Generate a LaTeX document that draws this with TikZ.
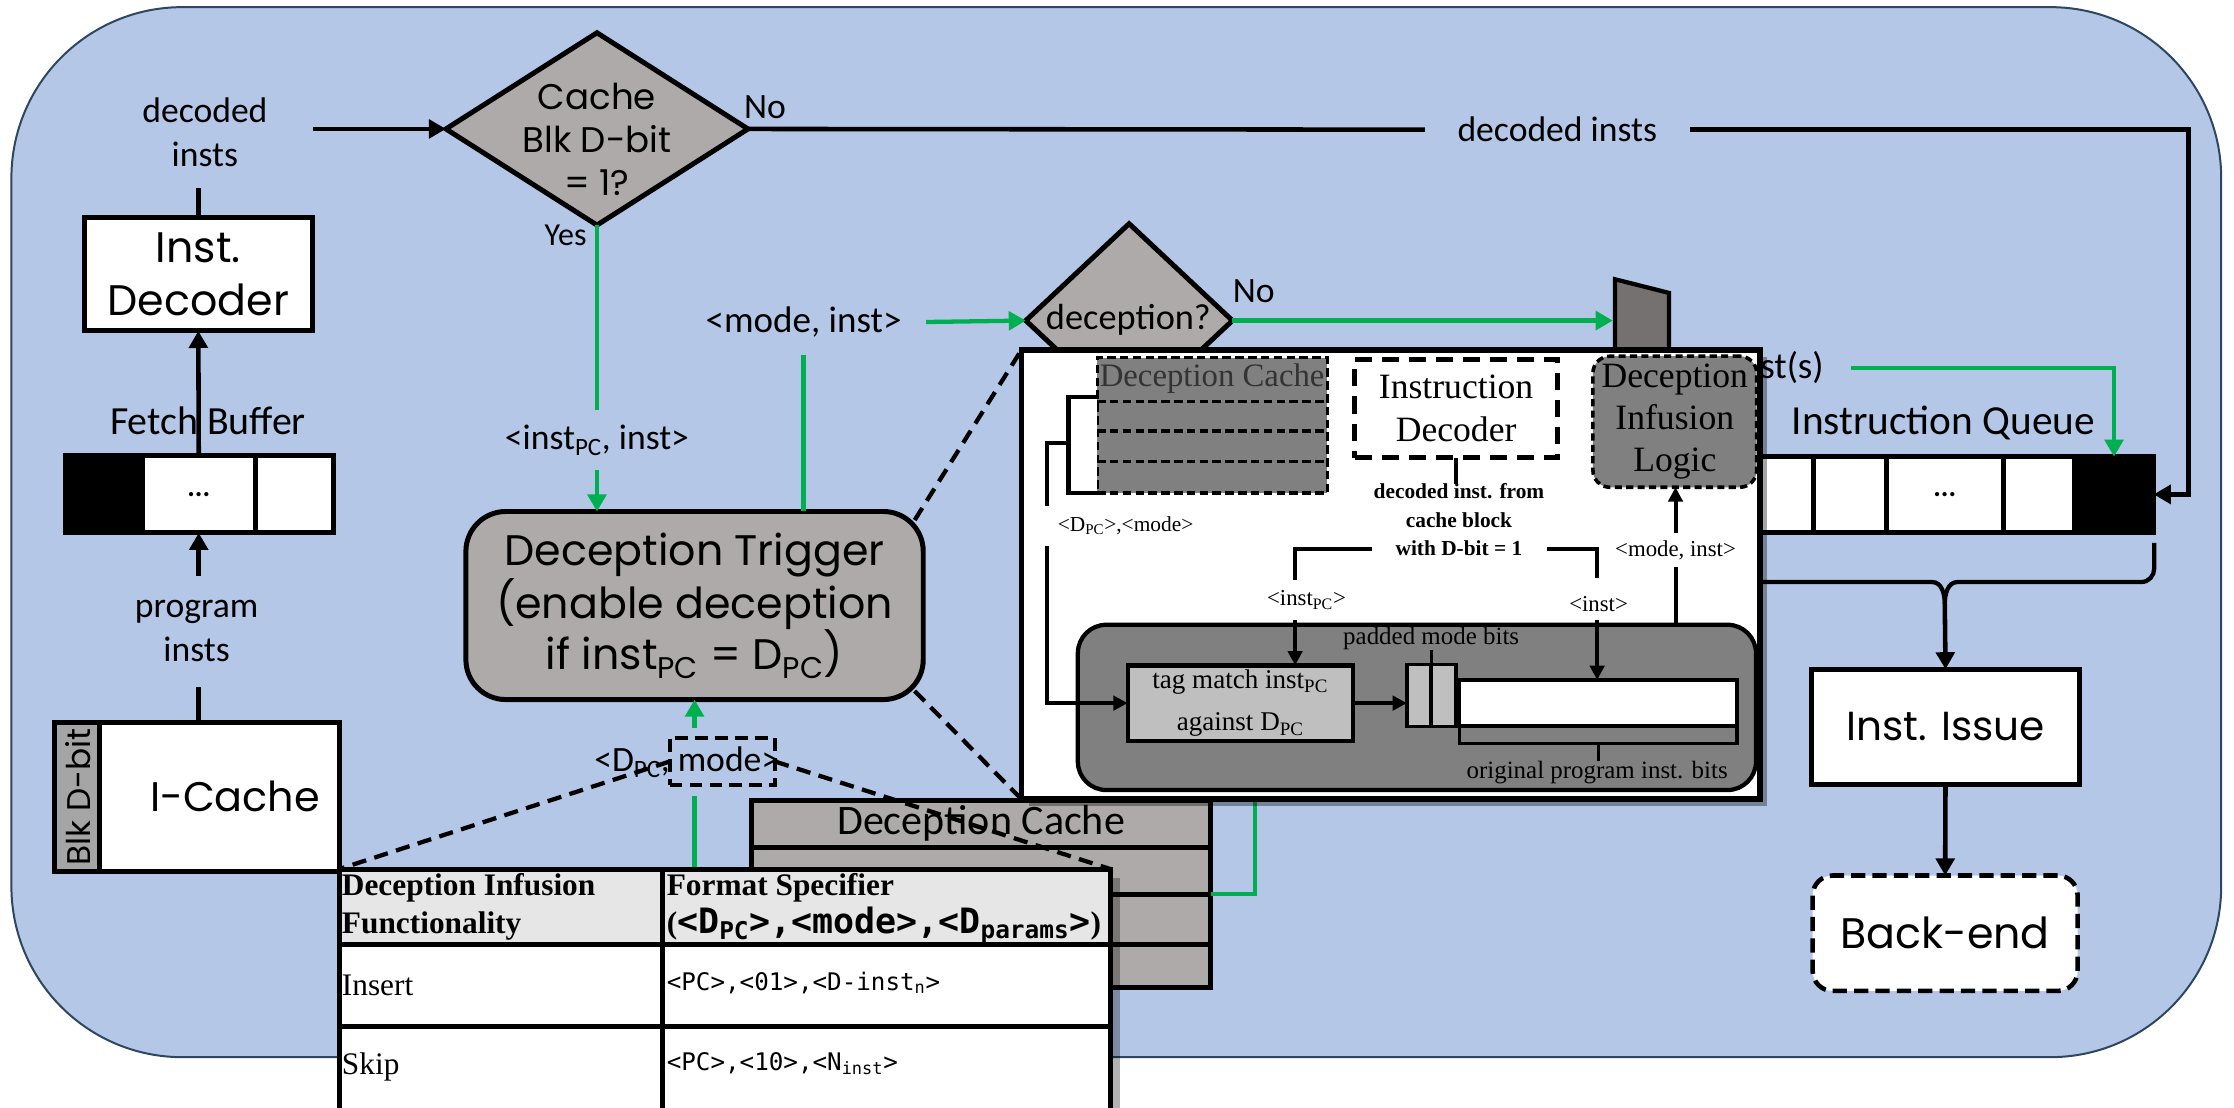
\documentclass[tikz,border=0pt]{standalone}
\usepackage{fontspec}
\setmainfont{Liberation Serif}
\newfontfamily\popf{Poppins}
\newfontfamily\calf{Carlito}
\newfontfamily\monf{DejaVu Sans Mono}
\usetikzlibrary{arrows.meta,shapes.geometric,shadows,calc}
\definecolor{bgblue}{HTML}{B4C7E7}
\definecolor{bgedge}{HTML}{2E4660}
\definecolor{lgray}{HTML}{AEAAAA}
\definecolor{mgray}{HTML}{808080}
\definecolor{muxgray}{HTML}{767171}
\definecolor{tgray}{HTML}{BFBFBF}
\definecolor{hgray}{HTML}{E7E6E6}
\definecolor{gr}{HTML}{00B050}
\definecolor{dbgray}{HTML}{A5A5A5}
\newcommand{\fsz}[2]{\fontsize{#1pt}{#2pt}\selectfont}
\newcommand{\sbs}[1]{\textsubscript{#1}}
\begin{document}
\begin{tikzpicture}[x=1pt,y=-1pt,
  every node/.style={inner sep=0pt,outer sep=0pt},
  bl/.style={draw=black,line width=3.2pt},
  gl/.style={draw=gr,line width=3pt},
  ar/.style={-{Triangle[length=12pt,width=13pt]}},
  sar/.style={-{Triangle[length=10pt,width=10pt]}},
  pl/.style={draw=black,line width=2.8pt},
  thickbox/.style={draw=black,line width=3.5pt,fill=white},
  cell/.style={draw=black,line width=3.5pt,fill=white,minimum height=53pt},
  clab/.style={font=\calf\fsz{25}{31},align=center},
  callout/.style={draw=black,line width=3pt,dash pattern=on 10pt off 6pt},
  tcell/.style={draw=black,line width=3.5pt,fill=white,anchor=north west},
]
\useasboundingbox (0,0) rectangle (1568,777);
\fill[white] (0,0) rectangle (1568,777);
\draw[fill=bgblue,draw=bgedge,line width=1.4pt,rounded corners=120pt] (8,5) rectangle (1559,742);

% ---------- fetch buffer and decoder
\node[cell,fill=black,minimum width=54pt,minimum height=54pt] (fb0) at (73,347) {};
\node[cell,minimum width=79pt,minimum height=54pt,font=\calf\fsz{20}{20}\bfseries] (fb1) at (139.5,347) {...};
\node[cell,minimum width=55pt,minimum height=54pt] (fb2) at (206.5,347) {};
\node[thickbox,minimum width=160pt,minimum height=79.5pt,font=\popf\fsz{30}{37.5},align=center] (dec) at (139.2,192.5) {Inst.\\Decoder};
\draw[bl,ar] (fb1.north) -- (dec.south);
\node[font=\calf\fsz{28}{28},anchor=base] (fblab) at (146,305) {Fetch Buffer};
\node[clab,minimum width=152pt,minimum height=78pt] (dlab1) at (143.8,93) {decoded\\insts};
\draw[bl] (dec.north) -- (dec.north |- dlab1.south);

% ---------- I-cache
\node[draw,line width=3.5pt,fill=dbgray,minimum width=32pt,minimum height=105pt] (dbit) at (54,559.5) {};
\node[font=\popf\fsz{23}{23},rotate=90] (dbtxt) at (55,559.5) {Blk D-bit};
\node[thickbox,minimum width=168pt,minimum height=105pt] (icache) at (154,559.5) {};
\node[font=\popf\fsz{29}{29}] (ictxt) at (165,559) {I-Cache};
\node[clab,minimum width=100pt,minimum height=78pt] (plab) at (138,443) {program\\insts};
\draw[bl,ar] (fb1.south |- plab.north) -- (fb1.south);
\draw[bl] (fb1.south |- icache.north) -- (fb1.south |- plab.south);

% ---------- cache diamond
\node[diamond,draw,line width=3.5pt,fill=lgray,minimum width=212pt,minimum height=135pt] (cdia) at (419,90.5) {};
\node[font=\popf\fsz{25}{30},align=center] (cdtxt) at (419,98) {Cache\\Blk D-bit\\= 1?};
\draw[bl,ar] (dlab1.east |- cdia.west) -- (cdia.west);
\node[font=\calf\fsz{25}{25},anchor=base] (no1) at (537,83) {No};
\node[font=\calf\fsz{22.5}{22.5},anchor=base] (yes) at (397,172) {Yes};

% ---------- instruction queue
\node[cell,minimum width=93pt] (iq0) at (1226.5,347) {};
\node[cell,minimum width=51pt] (iq1) at (1298.5,347) {};
\node[cell,minimum width=82pt,font=\calf\fsz{20}{20}\bfseries] (iq2) at (1365,347) {...};
\node[cell,minimum width=50pt] (iq3) at (1431,347) {};
\node[cell,fill=black,minimum width=55.6pt] (iq4) at (1483.8,347) {};
\node[font=\calf\fsz{29}{29},anchor=base] (iqlab) at (1364,305.3) {Instruction Queue};

% ---------- top "No" path
\node[clab,minimum width=186pt,minimum height=30pt] (dlab2) at (1093,91) {decoded insts};
\draw[bl] (cdia.east) -- (dlab2.west);
\coordinate (qr) at (1536,91);
\draw[bl,ar] (dlab2.east) -- (qr) |- (iq4.east);

% ---------- trigger
\node[draw,line width=3.5pt,fill=lgray,rounded corners=28pt,minimum width=321pt,minimum height=132pt,font=\popf\fsz{30}{36},align=center] (trig) at (487.5,425) {Deception Trigger\\(enable deception\\if inst\sbs{PC} = D\sbs{PC})};
\node[font=\calf\fsz{25}{25},minimum width=140pt,minimum height=42pt] (ilab) at (419,309) {<inst\sbs{PC}, inst>};
\draw[gl] (cdia.south) -- (ilab.north);
\draw[gl,ar] (ilab.south) -- (ilab.south |- trig.north);

\node[font=\calf\fsz{26}{26},minimum width=172pt,minimum height=46pt] (mlab) at (564,226) {<mode, inst>};
\draw[gl] (trig.north -| mlab.south) -- (mlab.south);

% ---------- deception diamond and mux
\node[diamond,draw,line width=3.5pt,fill=lgray,minimum width=145pt,minimum height=136pt] (ddia) at (792.5,225) {};
\node[font=\calf\fsz{25.5}{25.5},anchor=base] (ddtxt) at (792,231.6) {deception?};
\draw[gl,ar] (mlab.east) -- (ddia.west);
\node[font=\calf\fsz{25}{25},anchor=base] (no2) at (880,212) {No};
\draw[line width=3pt,fill=muxgray] (1133.5,196) -- (1171.5,205.6) -- (1171.5,300) -- (1133.5,310) -- cycle;
\coordinate (muxin) at (1132,225);
\draw[gl,ar] (ddia.east) -- (muxin);

\node[font=\calf\fsz{26}{26},inner xsep=19pt,anchor=base east] (islab) at (1299,266) {st(s)};
\draw[gl,ar] (islab.east) -| (iq4.north);

% ---------- brace, issue, back-end
\node[thickbox,minimum width=187.5pt,minimum height=81pt,font=\popf\fsz{28.5}{28.5}] (issue) at (1365.5,510.25) {Inst. Issue};
\node[draw,line width=3.2pt,dash pattern=on 10pt off 5pt,fill=white,rounded corners=14pt,minimum width=186pt,minimum height=81pt,font=\popf\fsz{30}{30}] (bend) at (1365.25,655) {Back-end};
\coordinate (bc) at (1365,424);
\draw[line width=3pt] (1200,408.5) -- (1356,408.5) to[out=0,in=90] (bc);
\draw[line width=3pt] (1512,381) -- (1512,399) to[out=-90,in=0] (1503,408.5) -- (1374,408.5) to[out=180,in=90] (bc);
\draw[bl,ar] (bc) -- (issue.north);
\draw[bl,ar] (issue.south) -- (bend.north);

% ---------- bottom deception cache
\node[draw,line width=3.5pt,fill=lgray,minimum width=322pt,minimum height=131.5pt] (dcache) at (688.75,627.5) {};
\foreach \yy in {594.5,628,662.6} \draw[line width=3.5pt] (527.75,\yy) -- (849.75,\yy);
\node[font=\calf\fsz{29.5}{29.5},anchor=base] (dctxt) at (688.6,586) {Deception Cache};
\coordinate (gup) at (881,540);
\draw[gl] (gup) |- (dcache.east);

% ---------- inset panel
\node[draw,line width=4pt,fill=white,minimum width=518.5pt,minimum height=315.5pt,drop shadow={shadow xshift=5pt,shadow yshift=-5pt,opacity=0.35,fill=black}] (panel) at (976.25,403.25) {};

% inner deception cache
\node[draw,dash pattern=on 6pt off 3pt,line width=2.2pt,fill=mgray,minimum width=161.5pt,minimum height=95pt] (idc) at (850.75,298.5) {};
\foreach \yy in {281.5,302.5,324} \draw[line width=2.2pt,dash pattern=on 6pt off 3pt] (770,\yy) -- (931.5,\yy);
\node[font=\fsz{23}{23},text=black!80,anchor=base] (idctxt) at (850.75,271.5) {Deception Cache};
\draw[line width=3pt,fill=white] (770,278.5) -- (750,278.5) -- (750,346) -- (770,346);
\coordinate (brm) at (750,311);
\coordinate (brl) at (735,311);
\node[font=\fsz{15}{15},minimum height=28pt] (dpmlab) at (790,369) {<D\sbs{PC}>,<mode>};

% instruction decoder inner
\node[draw,dash pattern=on 12pt off 7pt,line width=3.5pt,fill=white,minimum width=142.5pt,minimum height=69pt,font=\fsz{25}{30.5},align=center] (idec) at (1022,286.75) {Instruction\\Decoder};
\node[font=\fsz{15}{20}\bfseries,align=center] (dilab) at (1024,365) {decoded inst. from\\cache block\\with D-bit = 1};
\draw[pl] (idec.south) -- (idec.south |- dilab.north);

% deception infusion logic
\node[draw,dash pattern=on 5pt off 3pt,line width=2.5pt,fill=mgray,rounded corners=12pt,minimum width=115pt,minimum height=92pt,font=\fsz{25}{29.3},align=center] (dilg) at (1175.5,296) {Deception\\Infusion\\Logic};

% big gray box
\node[draw,line width=3pt,fill=mgray,rounded corners=20pt,minimum width=476pt,minimum height=116pt] (big) at (994.5,496.5) {};
\node[draw,line width=3pt,fill=tgray,minimum width=158pt,minimum height=53pt,font=\fsz{19}{30},align=center] (tag) at (870.5,493.5) {tag match inst\sbs{PC}\\against D\sbs{PC}};
\node[draw,line width=2.5pt,fill=tgray,minimum width=17pt,minimum height=43.5pt] (mb1) at (996,488.25) {};
\node[draw,line width=2.5pt,fill=tgray,minimum width=17.5pt,minimum height=43.5pt] (mb2) at (1013.25,488.25) {};
\node[draw,line width=2.5pt,fill=mgray,minimum width=195pt,minimum height=44.5pt] (obits) at (1121.8,499.5) {};
\node[draw,line width=2.5pt,fill=white,minimum width=195pt,minimum height=32.5pt] (wbar) at (1121.8,493.5) {};
\node[font=\fsz{17.5}{17.5}] (pmlab) at (1004.5,448) {padded mode bits};
\draw[line width=2pt] (mb1.north east) -- (mb1.north east |- pmlab.south);
\node[font=\fsz{17.5}{17.5}] (oplab) at (1121,542) {original program inst. bits};
\draw[line width=2pt] (obits.south) -- (obits.south |- oplab.north);
\draw[pl,sar] (tag.east) -- (tag.east -| mb1.west);

% wiring inside panel
\draw[pl] (brm) -- (brl) -- (brl |- dpmlab.north);
\draw[pl,sar] (brl |- dpmlab.south) |- (tag.west);
\coordinate (dbl) at (963,385);
\coordinate (ipcx) at (909,407);
\coordinate (ipca) at (909,435);
\node[font=\fsz{16}{16}] (ipclab) at (917,421) {<inst\sbs{PC}>};
\draw[pl] (dbl) -| (ipcx);
\draw[pl,sar] (ipca) -- (ipca |- tag.north);
\coordinate (dbr) at (1086,385);
\coordinate (insx) at (1121,406);
\coordinate (insa) at (1121,435);
\node[font=\fsz{16}{16}] (inslab) at (1122,424) {<inst>};
\draw[pl] (dbr) -| (insx);
\draw[pl,sar] (insa) -- (insa |- wbar.north);
\node[font=\fsz{16}{16},minimum height=24pt] (milab) at (1176,386) {<mode, inst>};
\draw[pl] (milab.south |- big.north) -- (milab.south);
\draw[pl,sar] (milab.north) -- (milab.north |- dilg.south);

% callouts from trigger
\draw[callout] ($(trig.north east)+(-6,6)$) -- (panel.north west);
\draw[callout] ($(trig.south east)+(-6,-6)$) -- (panel.south west);

% ---------- D_PC, mode label
\node[font=\calf\fsz{25}{25},minimum height=48pt] (dpcl) at (482,535) {<D\sbs{PC}, mode>};
\node[draw,dash pattern=on 9pt off 5pt,line width=3pt,minimum width=74pt,minimum height=33pt] (mbox) at (507,534.5) {};
\draw[gl,ar] (trig.south |- dpcl.north) -- (trig.south);
\coordinate (gdown) at (487.5,650);
\draw[gl] (trig.south |- dpcl.south) -- (gdown);

% ---------- table
\fill[black,opacity=0.3] (244,616) rectangle (786,800);
\node[tcell,fill=hgray,minimum width=226.8pt,minimum height=53pt] (h1) at (238,610) {};
\node[tcell,fill=hgray,minimum width=314.7pt,minimum height=53pt] (h2) at (464.8,610) {};
\node[tcell,minimum width=226.8pt,minimum height=57.5pt] (r1a) at (238,663) {};
\node[tcell,minimum width=314.7pt,minimum height=57.5pt] (r1b) at (464.8,663) {};
\node[tcell,minimum width=226.8pt,minimum height=80pt] (r2a) at (238,720.5) {};
\node[tcell,minimum width=314.7pt,minimum height=80pt] (r2b) at (464.8,720.5) {};
\node[font=\fsz{22}{26.8}\bfseries,align=left,anchor=north west] (t11) at (240,613) {Deception Infusion\\Functionality};
\node[font=\fsz{22}{26.8}\bfseries,align=left,anchor=north west] (t12) at (468,613) {Format Specifier\\({\monf\fsz{24.5}{26.8}<D\sbs{PC}>,<mode>,<D\sbs{params}>})};
\node[font=\fsz{22}{22},anchor=base west] (t21) at (240,698.4) {Insert};
\node[font=\monf\fsz{17}{17},anchor=base west] (t22) at (468,695) {<PC>,<01>,<D-inst\sbs{n}>};
\node[font=\fsz{22}{22},anchor=base west] (t31) at (240,754.5) {Skip};
\node[font=\monf\fsz{17}{17},anchor=base west] (t32) at (468,751) {<PC>,<10>,<N\sbs{inst}>};
\draw[callout] (mbox.west) -- (h1.north west);
\draw[callout] (mbox.east) -- (h2.north east);
\end{tikzpicture}
\end{document}
